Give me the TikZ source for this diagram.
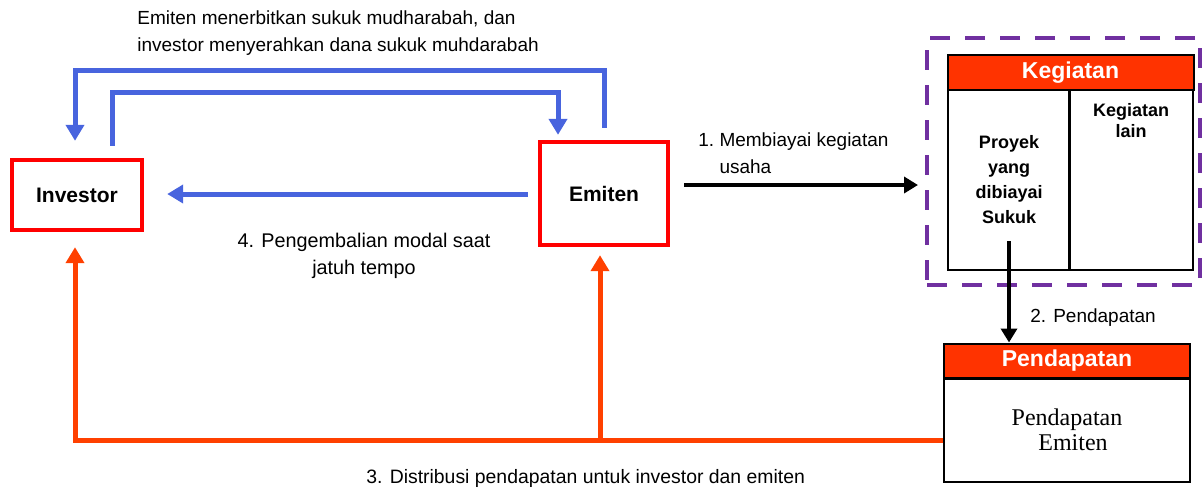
\documentclass[tikz,border=0pt]{standalone}
\usepackage{fontspec}
\setmainfont{Liberation Sans}
\newfontfamily\serif{Liberation Serif}
\usetikzlibrary{arrows.meta}
\definecolor{boxred}{RGB}{255,0,0}
\definecolor{headred}{RGB}{255,51,0}
\definecolor{flowblue}{RGB}{72,100,222}
\definecolor{floworange}{RGB}{255,64,0}
\definecolor{framepurple}{RGB}{112,48,160}
\tikzstyle{party} = [rectangle, draw=boxred, line width=2.2pt, font=\bfseries\fontsize{10.5}{12}\selectfont]
\tikzstyle{head} = [rectangle, draw, line width=1pt, fill=headred, text=white, font=\bfseries\fontsize{11.5}{13}\selectfont, minimum width=123pt, minimum height=17.5pt, inner sep=0pt]
\tikzstyle{cell} = [rectangle, draw, line width=1pt, inner sep=0pt, align=center, font=\bfseries\fontsize{9}{12.5}\selectfont]
\tikzstyle{frame} = [rectangle, draw=framepurple, line width=2pt, dash pattern=on 10pt off 7.5pt]
\tikzstyle{note} = [font=\fontsize{9.5}{13.5}\selectfont, align=left, inner sep=0pt]
\tikzstyle{blueline} = [draw=flowblue, line width=2.5pt, -{Triangle[length=8pt,width=9pt]}, flowblue]
\tikzstyle{orangeline} = [draw=floworange, line width=2.5pt, -{Triangle[length=8pt,width=9pt]}, floworange]
\tikzstyle{line} = [draw, line width=2pt, -{Triangle[length=7pt,width=8pt]}]

\begin{document}
\begin{tikzpicture}[x=0.5pt, y=-0.5pt]
		\useasboundingbox (0,0) rectangle (1203,488);

		% the two parties
		\node [party, minimum width=65pt, minimum height=35pt] (investor) at (77,195) {Investor};
		\node [party, minimum width=64pt, minimum height=51.5pt] (emiten) at (604,193.5) {Emiten};

		% kegiatan table
		\node [frame, minimum width=136.5pt, minimum height=123.5pt] (frame) at (1063.5,161.5) {};
		\node [head] (kegiatan) at (1070.5,72.5) {Kegiatan};
		\node [cell, minimum width=61pt, minimum height=90pt] (proyek) at (1009,180) {Proyek\\yang\\dibiayai\\Sukuk};
		\node [cell, minimum width=62pt, minimum height=90pt] (lain) at (1131,180) {};
		\node [cell, draw=none, anchor=north, font=\bfseries\fontsize{9}{10.5}\selectfont] (lain-text) at ([yshift=-6.5pt]lain.north) {Kegiatan\\lain};

		% pendapatan table
		\node [head] (pend-head) at (1067,361) {Pendapatan};
		\node [cell, minimum width=123pt, minimum height=52pt, font=\serif\fontsize{12}{12.5}\selectfont] (pend-body) at (1067,430) {Pendapatan\\\ \ Emiten};

		% labels
		\node [note, anchor=north west] (lbl-top) at (137,10) {Emiten menerbitkan sukuk mudharabah, dan\\investor menyerahkan dana sukuk muhdarabah};
		\node [note, anchor=west] (lbl-1) at (698,153.5) {1.~Membiayai kegiatan\\\hphantom{1.~}usaha};
		\node [note, anchor=west] (lbl-2) at (1030,318) {2. Pendapatan};
		\node [note, anchor=west, font=\fontsize{9.7}{13.5}\selectfont] (lbl-3) at (366,478) {3. Distribusi pendapatan untuk investor dan emiten};
		\node [note, align=center, font=\fontsize{9.9}{13.5}\selectfont] (lbl-4) at (364,256) {4. Pengembalian modal saat\\jatuh tempo};

		% blue flows
		\path [blueline] ([yshift=6pt]emiten.north) -- ++(0,-57) -| ([xshift=-1pt,yshift=8.5pt]investor.north);
		\path [blueline] ([xshift=17.5pt,yshift=6pt]investor.north) -- ++(0,-53) -| ([xshift=-23pt,yshift=2.5pt]emiten.north);
		\coordinate (b1) at ([xshift=-5pt,yshift=-0.25pt]emiten.west);
		\path [blueline, shorten >=11.5pt] (b1) -- (b1 -| investor.east);

		% black flows
		\coordinate (a1) at ([xshift=7pt,yshift=4.25pt]emiten.east);
		\path [line, shorten >=3.5pt] (a1) -- (a1 -| frame.west);
		\coordinate (p1) at ([yshift=15pt]proyek.south);
		\path [line] (p1) -- (p1 |- pend-head.north);

		% orange flows
		\coordinate (o1) at ([yshift=-5pt]pend-body.west);
		\coordinate (o2) at (o1 -| emiten.south);
		\path [orangeline] (o1) -| ([xshift=-1pt,yshift=-7.5pt]investor.south);
		\path [orangeline] ([xshift=-2pt]o2) -- ([xshift=-2pt,yshift=-4pt]emiten.south);
	\end{tikzpicture}
\end{document}
